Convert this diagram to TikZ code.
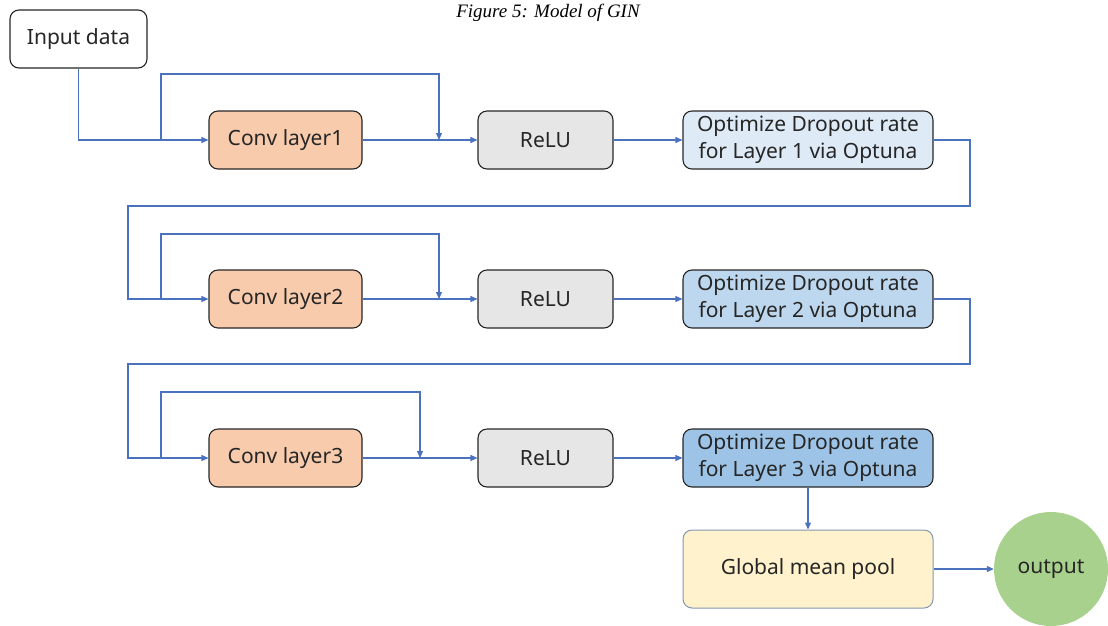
\documentclass[tikz,border=0pt]{standalone}
\usepackage{fontspec}
\setmainfont{Noto Sans}
\newfontfamily\capfont{Liberation Serif}
\usetikzlibrary{arrows.meta}
\definecolor{lineblue}{HTML}{4A72BE}
\definecolor{convfill}{HTML}{F8CBAD}
\definecolor{relufill}{HTML}{E6E6E6}
\definecolor{optA}{HTML}{DEEBF7}
\definecolor{optB}{HTML}{BDD7EE}
\definecolor{optC}{HTML}{9DC3E6}
\definecolor{poolfill}{HTML}{FFF2CC}
\definecolor{poolline}{HTML}{8497B0}
\definecolor{outfill}{HTML}{A9D18E}
\definecolor{boxline}{HTML}{262626}
\tikzset{
  txt/.style={font=\fontsize{21}{27}\selectfont, text=black!85},
  box/.style={txt, draw=boxline, line width=1.1pt, rounded corners=9pt, inner sep=0pt,
    minimum height=58pt, align=center},
  convbox/.style={box, fill=convfill, minimum width=153pt},
  relubox/.style={box, fill=relufill, minimum width=135pt},
  optbox/.style={box, minimum width=250pt},
  link/.style={draw=lineblue, line width=1.1pt},
  arrow/.style={link, -{Triangle[length=7pt,width=6pt]}},
}
\begin{document}
\begin{tikzpicture}[x=1pt,y=-1pt]
\useasboundingbox (0,0) rectangle (1108,625);
\node[font=\capfont\itshape\fontsize{19}{22}\selectfont, anchor=base] (cap) at (548,17) {Figure 5: Model of GIN};

\node[box, fill=white, minimum width=137pt] (in) at (78.5,39) {Input data};

\node[convbox] (c1) at (285.5,140) {Conv layer1};
\node[relubox] (r1) at (545.5,140) {ReLU};
\node[optbox, fill=optA] (o1) at (808,140) {Optimize Dropout rate\\for Layer 1 via Optuna};

\node[convbox] (c2) at (285.5,299) {Conv layer2};
\node[relubox] (r2) at (545.5,299) {ReLU};
\node[optbox, fill=optB] (o2) at (808,299) {Optimize Dropout rate\\for Layer 2 via Optuna};

\node[convbox] (c3) at (285.5,458) {Conv layer3};
\node[relubox] (r3) at (545.5,458) {ReLU};
\node[optbox, fill=optC] (o3) at (808,458) {Optimize Dropout rate\\for Layer 3 via Optuna};

\node[box, draw=poolline, line width=1pt, fill=poolfill, minimum width=250pt, minimum height=78pt] (gmp) at (808,569) {Global mean pool};
\node[txt, circle, fill=outfill, minimum size=114pt, inner sep=0pt] (out) at (1051,569) {output};

% junction coordinates
\coordinate (s1a) at (161,140);
\coordinate (s1b) at (439,140);
\coordinate (s2a) at (161,299);
\coordinate (s2b) at (439,299);
\coordinate (s3a) at (161,458);
\coordinate (s3b) at (420,458);
\coordinate (w1a) at (970,206);
\coordinate (w1b) at (128,206);
\coordinate (w2a) at (970,364);
\coordinate (w2b) at (128,364);

% row 1
\draw[arrow] (in.south) |- (c1.west);
\draw[arrow] (s1a) -- (161,74) -| (s1b);
\draw[arrow] (c1.east) -- (r1.west);
\draw[arrow] (r1.east) -- (o1.west);

% wrap to row 2
\draw[arrow] (o1.east) -| (w1a) -- (w1b) |- (c2.west);
\draw[arrow] (s2a) -- (161,234) -| (s2b);
\draw[arrow] (c2.east) -- (r2.west);
\draw[arrow] (r2.east) -- (o2.west);

% wrap to row 3
\draw[arrow] (o2.east) -| (w2a) -- (w2b) |- (c3.west);
\draw[arrow] (s3a) -- (161,392) -| (s3b);
\draw[arrow] (c3.east) -- (r3.west);
\draw[arrow] (r3.east) -- (o3.west);

% tail
\draw[arrow] (o3.south) -- (gmp.north);
\draw[arrow] (gmp.east) -- (out.west);
\end{tikzpicture}
\end{document}
